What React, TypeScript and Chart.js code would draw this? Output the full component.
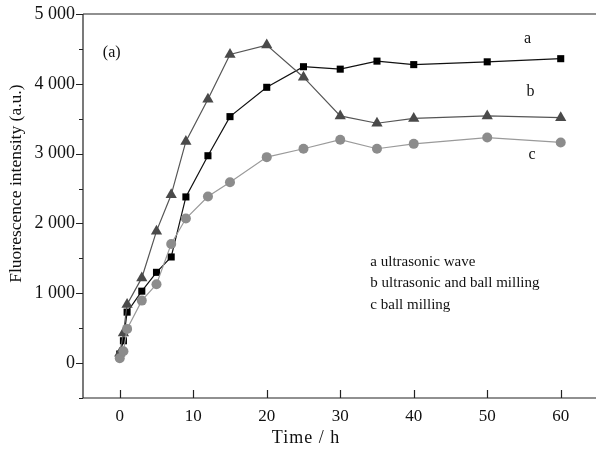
import React, { useEffect, useRef } from "react";
import { Chart, registerables } from "chart.js";

Chart.register(...registerables);

const timesA = [0, 0.5, 1, 3, 5, 7, 9, 12, 15, 20, 25, 30, 35, 40, 50, 60];
const seriesA = [130, 320, 730, 1030, 1300, 1520, 2380, 2970, 3530, 3950, 4245, 4210, 4325, 4275, 4315, 4360];
const seriesB = [140, 430, 840, 1220, 1890, 2410, 3175, 3780, 4420, 4555, 4095, 3540, 3435, 3505, 3540, 3515];
const seriesC = [70, 170, 490, 895, 1130, 1705, 2070, 2385, 2590, 2950, 3070, 3200, 3070, 3140, 3230, 3160];

const xTicks = [0, 10, 20, 30, 40, 50, 60];
const yTicks = [0, 1000, 2000, 3000, 4000, 5000];
const yMinorTicks = [-500, 500, 1500, 2500, 3500, 4500];

const seriesLabels = ["a ultrasonic wave", "b ultrasonic and ball milling", "c ball milling"];

const FONT = "'Liberation Serif', 'Times New Roman', serif";

const fmt = (v: number) => {
  const s = String(Math.round(v));
  if (Math.abs(v) < 1000) return s;
  return s.slice(0, s.length - 3) + " " + s.slice(s.length - 3);
};

const decor = {
  id: "decor",
  afterDraw(chart: any) {
    const ctx = chart.ctx;
    const xs = chart.scales.x;
    const ys = chart.scales.y;
    const { left, right, top, bottom } = chart.chartArea;
    ctx.save();
    ctx.strokeStyle = "#222";
    ctx.lineWidth = 1.2;
    ctx.beginPath();
    ctx.moveTo(left, top);
    ctx.lineTo(right, top);
    ctx.moveTo(left, top);
    ctx.lineTo(left, bottom);
    ctx.lineTo(right, bottom);
    ctx.stroke();
    ctx.beginPath();
    yTicks.forEach((v) => {
      const y = Math.round(ys.getPixelForValue(v)) + 0.5;
      ctx.moveTo(left, y);
      ctx.lineTo(left - 7, y);
    });
    yMinorTicks.forEach((v) => {
      const y = Math.round(ys.getPixelForValue(v)) + 0.5;
      ctx.moveTo(left, y);
      ctx.lineTo(left - 4, y);
    });
    xTicks.forEach((v) => {
      const x = Math.round(xs.getPixelForValue(v)) + 0.5;
      ctx.moveTo(x, bottom);
      ctx.lineTo(x, bottom - 8);
    });
    ctx.stroke();

    ctx.fillStyle = "#111";
    ctx.textAlign = "center";
    ctx.textBaseline = "middle";
    ctx.save();
    ctx.font = "18px " + FONT;
    (ctx as any).letterSpacing = "1px";
    ctx.fillText("Time / h", xs.getPixelForValue(25.2) + 1, 438);
    ctx.restore();
    ctx.save();
    ctx.font = "17.5px " + FONT;
    ctx.translate(16, ys.getPixelForValue(2570));
    ctx.rotate(-Math.PI / 2);
    ctx.fillText("Fluorescence intensity (a.u.)", 0, 0);
    ctx.restore();

    ctx.font = "16px " + FONT;
    ctx.textAlign = "left";
    ctx.fillText("(a)", xs.getPixelForValue(-2.3), ys.getPixelForValue(4450));
    ctx.textAlign = "center";
    ctx.fillText("a", xs.getPixelForValue(55.5), ys.getPixelForValue(4640));
    ctx.fillText("b", xs.getPixelForValue(55.9), ys.getPixelForValue(3880));
    ctx.fillText("c", xs.getPixelForValue(56.1), ys.getPixelForValue(2990));

    ctx.font = "15px " + FONT;
    ctx.textAlign = "left";
    const lx = xs.getPixelForValue(34.1);
    const lyVals = [1450, 1145, 830];
    seriesLabels.forEach((t, i) => ctx.fillText(t, lx, ys.getPixelForValue(lyVals[i])));
    ctx.restore();
  },
};

export default function App() {
  const ref = useRef<HTMLCanvasElement | null>(null);
  useEffect(() => {
    document.body.style.margin = "0";
    const mk = (arr: number[]) => timesA.map((t, i) => ({ x: t, y: arr[i] }));
    const chart = new Chart(ref.current!, {
      type: "scatter",
      data: {
        datasets: [
          {
            label: seriesLabels[2],
            data: mk(seriesC),
            showLine: true,
            borderColor: "#9a9a9a",
            backgroundColor: "#8c8c8c",
            borderWidth: 1.2,
            pointStyle: "circle",
            pointRadius: 5,
            pointBorderWidth: 0,
          },
          {
            label: seriesLabels[1],
            data: mk(seriesB),
            showLine: true,
            borderColor: "#555555",
            backgroundColor: "#4a4a4a",
            borderWidth: 1.2,
            pointStyle: "triangle",
            pointRadius: 6.5,
            pointBorderWidth: 0,
          },
          {
            label: seriesLabels[0],
            data: mk(seriesA),
            showLine: true,
            borderColor: "#111111",
            backgroundColor: "#000000",
            borderWidth: 1.2,
            pointStyle: "rect",
            pointRadius: 5,
            pointBorderWidth: 0,
          },
        ],
      },
      options: {
        responsive: false,
        animation: false,
        layout: { padding: { left: 0, right: 0, top: 14, bottom: 0 }, autoPadding: false },
        plugins: { legend: { display: false }, tooltip: { enabled: false } },
        scales: {
          x: {
            type: "linear",
            min: -5,
            max: 64.8,
            afterBuildTicks: (s: any) => {
              s.ticks = xTicks.map((v) => ({ value: v }));
            },
            afterFit: (s: any) => {
              s.height = 51;
              s.paddingLeft = 0;
              s.paddingRight = 0;
            },
            grid: { display: false, drawTicks: false },
            border: { display: false },
            ticks: {
              padding: 8,
              color: "#111",
              font: { family: FONT, size: 17 },
              maxRotation: 0,
              callback: (v: any) => String(v),
            },
          },
          y: {
            type: "linear",
            min: -500,
            max: 5000,
            afterBuildTicks: (s: any) => {
              s.ticks = yTicks.map((v) => ({ value: v }));
            },
            afterFit: (s: any) => {
              s.width = 83;
              s.paddingTop = 0;
              s.paddingBottom = 0;
            },
            grid: { display: false, drawTicks: false },
            border: { display: false },
            ticks: {
              padding: 8,
              color: "#111",
              font: { family: FONT, size: 18 },
              callback: (v: any) => fmt(Number(v)),
            },
          },
        },
      },
      plugins: [decor],
    } as any);
    return () => chart.destroy();
  }, []);
  return (
    <div style={{ width: 596, height: 449, background: "#fff" }}>
      <canvas ref={ref} width={596} height={449} style={{ display: "block" }} />
    </div>
  );
}
